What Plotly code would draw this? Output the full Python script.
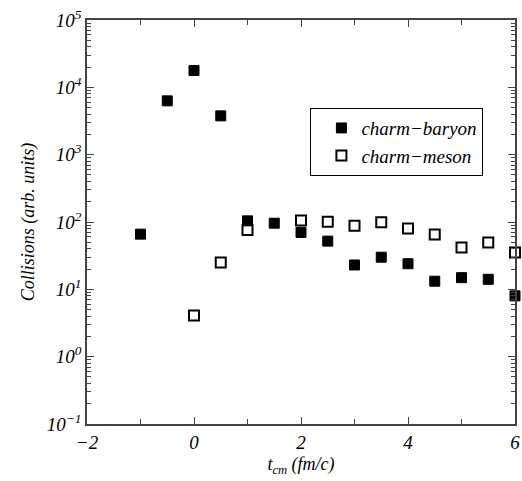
import plotly.graph_objects as go

t_baryon = [-1, -0.5, 0, 0.5, 1, 1.5, 2, 2.5, 3, 3.5, 4, 4.5, 5, 5.5, 6]
c_baryon = [66, 6300, 17800, 3770, 104, 96, 70, 52, 23, 30, 24, 13.2, 14.9, 14.1, 8.0]

t_meson = [0, 0.5, 1, 2, 2.5, 3, 3.5, 4, 4.5, 5, 5.5, 6]
c_meson = [4.07, 25, 76, 105, 101, 88, 99, 80, 65, 41.7, 49.4, 35.1]

xticks = [-2, 0, 2, 4, 6]
xminor = [-1, 1, 3, 5]
yticks = [0.1, 1, 10, 100, 1000, 10000, 100000]
yticklabels = ["10<sup>−1</sup>", "10<sup>0</sup>", "10<sup>1</sup>", "10<sup>2</sup>",
               "10<sup>3</sup>", "10<sup>4</sup>", "10<sup>5</sup>"]
yminor = [m * 10 ** e for e in range(-1, 5) for m in range(2, 10)]

FONT = "Liberation Serif"

fig = go.Figure()
fig.add_trace(go.Scatter(
    x=t_baryon, y=c_baryon, mode="markers", name="charm−baryon",
    marker=dict(symbol="square", size=10, color="black", line=dict(color="black", width=1)),
    cliponaxis=False,
))
fig.add_trace(go.Scatter(
    x=t_meson, y=c_meson, mode="markers", name="charm−meson",
    marker=dict(symbol="square-open", size=10, color="black", line=dict(color="black", width=2)),
    cliponaxis=False,
))

axis_common = dict(
    showline=True, linecolor="#444", linewidth=1.5, mirror="allticks",
    ticks="inside", tickcolor="#444", tickwidth=1, showgrid=False, zeroline=False,
    tickfont=dict(family=FONT, size=19, color="black", style="italic"),
    ticklabeloverflow="allow", automargin=False,
)

fig.update_xaxes(
    range=[-2, 6], tickmode="array", tickvals=xticks, ticktext=[str(v).replace("-", "−") for v in xticks],
    ticklen=7,
    minor=dict(tickmode="array", tickvals=xminor, ticks="inside", ticklen=5, tickcolor="#444"),
    title=dict(text="t<sub>cm</sub> (fm/c)", font=dict(family=FONT, size=18, color="black", style="italic"),
               standoff=6),
    **axis_common,
)
fig.update_yaxes(
    type="log", range=[-1, 5], tickmode="array", tickvals=yticks, ticktext=yticklabels,
    ticklen=7,
    minor=dict(tickmode="array", tickvals=yminor, ticks="inside", ticklen=4, tickcolor="#444"),
    title=dict(text="Collisions (arb. units)", font=dict(family=FONT, size=18, color="black", style="italic"),
               standoff=8),
    **axis_common,
)

fig.update_layout(
    width=522, height=481,
    margin=dict(l=87, r=7, t=20, b=57),
    paper_bgcolor="white", plot_bgcolor="white",
    showlegend=True,
    legend=dict(
        x=0.522, y=0.782, xanchor="left", yanchor="top",
        bordercolor="black", borderwidth=1, bgcolor="white",
        font=dict(family=FONT, size=19, color="black", style="italic"),
        indentation=10, tracegroupgap=0, itemwidth=30,
    ),
)

fig.write_html("out.html")
